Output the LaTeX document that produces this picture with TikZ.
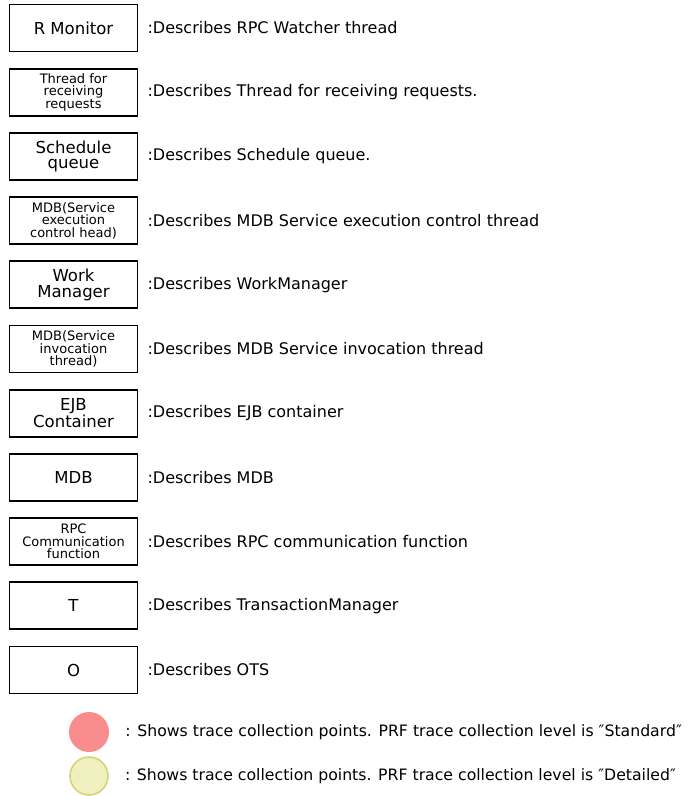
\documentclass[tikz,border=0pt]{standalone}
\usepackage{fontspec}
\setmainfont{DejaVu Sans}
\usetikzlibrary{positioning}
\definecolor{TrcPink}{HTML}{F98C8C}
\definecolor{TrcYellow}{HTML}{EFEFC0}
\definecolor{TrcOlive}{HTML}{D5D47A}

\begin{document}
\begin{tikzpicture}[
    x=1pt,y=1pt,
    node distance=15.4pt,
    part/.style={draw=black,line width=1.8pt,minimum width=128pt,minimum height=47pt,inner sep=1pt,align=center,font=\fontsize{16.5}{15.5}\selectfont},
    small/.style={font=\fontsize{13}{12.5}\selectfont},
    desc/.style={right=9pt of #1,inner sep=0pt,anchor=west,font=\fontsize{16}{16}\selectfont},
    std/.style={circle,fill=TrcPink,minimum size=40pt,inner sep=0pt},
    det/.style={circle,fill=TrcYellow,draw=TrcOlive,line width=1.6pt,minimum size=38pt,inner sep=0pt},
    note/.style={right=16pt of #1,inner sep=0pt,anchor=west,font=\fontsize{15.7}{16}\selectfont}
  ]
    \useasboundingbox (0,0) rectangle (692,-796);
    \node[part] (rmon) at (73.5,-28) {R Monitor};
    \node[part,small,below=of rmon] (recv) {Thread for\\receiving\\requests};
    \node[part,below=of recv] (sched) {Schedule\\queue};
    \node[part,small,below=of sched] (mdbexec) {MDB(Service\\execution\\control head)};
    \node[part,below=of mdbexec] (wm) {Work\\Manager};
    \node[part,small,below=of wm] (mdbinv) {MDB(Service\\invocation\\thread)};
    \node[part,below=of mdbinv] (ejb) {EJB\\Container};
    \node[part,below=of ejb] (mdb) {MDB};
    \node[part,small,below=of mdb] (rpc) {RPC\\Communication\\function};
    \node[part,below=of rpc] (tm) {T};
    \node[part,below=of tm] (ots) {O};
    \node[desc=rmon] (rmon-d) {:Describes RPC Watcher thread};
    \node[desc=recv] (recv-d) {:Describes Thread for receiving requests.};
    \node[desc=sched] (sched-d) {:Describes Schedule queue.};
    \node[desc=mdbexec] (mdbexec-d) {:Describes MDB Service execution control thread};
    \node[desc=wm] (wm-d) {:Describes WorkManager};
    \node[desc=mdbinv] (mdbinv-d) {:Describes MDB Service invocation thread};
    \node[desc=ejb] (ejb-d) {:Describes EJB container};
    \node[desc=mdb] (mdb-d) {:Describes MDB};
    \node[desc=rpc] (rpc-d) {:Describes RPC communication function};
    \node[desc=tm] (tm-d) {:Describes TransactionManager};
    \node[desc=ots] (ots-d) {:Describes OTS};
    % trace collection points
    \node[std] (lvstd) at (89,-732) {};
    \node[det] (lvdet) at (89,-776) {};
    \node[note=lvstd] (lvstd-d) {: Shows trace collection points. PRF trace collection level is ″Standard″};
    \node[note=lvdet] (lvdet-d) {: Shows trace collection points. PRF trace collection level is ″Detailed″};
  \end{tikzpicture}
\end{document}
